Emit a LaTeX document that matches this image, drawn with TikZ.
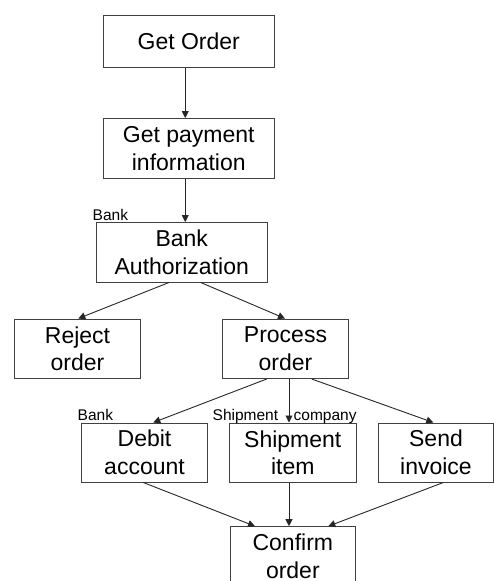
\documentclass[tikz,border=0pt]{standalone}
\usepackage{fontspec}
\setmainfont{Liberation Sans}
\usetikzlibrary{arrows.meta}
\tikzset{
  box/.style={draw=black!75, line width=1pt, fill=white, inner sep=0pt, align=center,
    font=\fontsize{23}{27.5}\selectfont},
  lbl/.style={inner sep=0pt, anchor=base west, font=\fontsize{15.5}{18}\selectfont},
  arr/.style={draw=black!85, line width=0.9pt, -{Triangle[length=7pt,width=7pt]}}
}
\begin{document}
\begin{tikzpicture}[x=1pt,y=-1pt]
\useasboundingbox (0,0) rectangle (494,581);
\clip (0,0) rectangle (494,581);
\node[box, minimum width=170.5pt, minimum height=52.5pt] (getorder) at (188.75,41.25) {Get Order};
\node[box, minimum width=170.5pt, minimum height=60pt] (getpay) at (188.75,148.5) {Get payment\\information};
\node[box, minimum width=170.5pt, minimum height=59.5pt] (bankauth) at (181.75,252.25) {Bank\\Authorization};
\node[box, minimum width=126pt, minimum height=59.5pt] (reject) at (77.5,348.75) {Reject\\order};
\node[box, minimum width=126pt, minimum height=59.5pt] (process) at (285.5,348.75) {Process\\order};
\node[box, minimum width=126pt, minimum height=59pt] (debit) at (144.5,452.5) {Debit\\account};
\node[box, minimum width=126.5pt, minimum height=59.5pt] (shipment) at (292.75,452.75) {Shipment\\item};
\node[box, minimum width=115pt, minimum height=59pt] (send) at (436,452.5) {Send\\invoice};
\node[box, minimum width=125.7pt, minimum height=59.5pt] (confirm) at (292.85,556.45) {Confirm\\order};

\node[lbl] (lbank1) at (92.5,220.7) {Bank};
\node[lbl] (lbank2) at (77.5,420.7) {Bank};
\node[lbl] (lship) at (212.5,420.7) {Shipment\hspace{15.5pt}company};

\draw[arr] ([xshift=-3.5pt]getorder.south) -- ([xshift=-3.5pt]getpay.north);
\draw[arr] ([xshift=-3.5pt]getpay.south) -- ([xshift=3.5pt]bankauth.north);
\draw[arr] ([xshift=-12.75pt]bankauth.south) -- ([xshift=0.8pt]reject.north);
\draw[arr] ([xshift=19pt]bankauth.south) -- ([xshift=-0.5pt]process.north);
\draw[arr] ([xshift=-18.8pt]process.south) -- ([xshift=8.8pt]debit.north);
\draw[arr] ([xshift=3.5pt]process.south) -- ([xshift=-3.75pt]shipment.north);
\draw[arr] ([xshift=26.2pt]process.south) -- ([xshift=-2.7pt]send.north);
\draw[arr] ([xshift=-1.2pt]debit.south) -- ([xshift=-37.85pt]confirm.north);
\draw[arr] ([xshift=-3.75pt]shipment.south) -- ([xshift=-3.85pt]confirm.north);
\draw[arr] ([xshift=7.3pt]send.south) -- ([xshift=35.45pt]confirm.north);
\end{tikzpicture}
\end{document}
